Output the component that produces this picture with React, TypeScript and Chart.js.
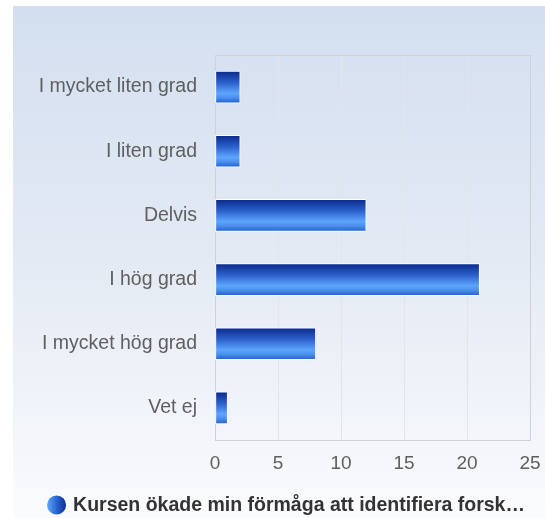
import React, { useEffect, useRef } from "react";
import { Chart, registerables } from "chart.js";

Chart.register(...registerables);

const categories = [
  "I mycket liten grad",
  "I liten grad",
  "Delvis",
  "I hög grad",
  "I mycket hög grad",
  "Vet ej",
];
const values = [2, 2, 12, 21, 8, 1];
const seriesLabel = "Kursen ökade min förmåga att identifiera forsk…";
const xTicks = [0, 5, 10, 15, 20, 25];

const bgPlugin = {
  id: "bgPlugin",
  beforeDraw(chart: any) {
    const { ctx, width, height } = chart;
    ctx.save();
    ctx.fillStyle = "#ffffff";
    ctx.fillRect(0, 0, width, height);
    const g = ctx.createLinearGradient(0, 6, 0, height);
    g.addColorStop(0, "#d3dff0");
    g.addColorStop(0.5, "#e4eaf4");
    g.addColorStop(1, "#fafbfd");
    ctx.fillStyle = g;
    ctx.fillRect(13, 6, width - 13, height - 6);
    ctx.restore();
  },
  beforeDatasetsDraw(chart: any) {
    const { ctx, chartArea } = chart;
    ctx.save();
    ctx.strokeStyle = "#cdd1d8";
    ctx.lineWidth = 1;
    ctx.strokeRect(
      Math.round(chartArea.left) + 0.5,
      Math.round(chartArea.top) + 0.5,
      Math.round(chartArea.right - chartArea.left),
      Math.round(chartArea.bottom - chartArea.top)
    );
    ctx.restore();
  },
  afterDraw(chart: any) {
    const { ctx } = chart;
    const label = chart.data.datasets[0].label;
    ctx.save();
    ctx.font = "bold 19.5px 'Liberation Sans', Arial, sans-serif";
    const tw = ctx.measureText(label).width;
    const r = 9.5;
    const gap = 7;
    const total = r * 2 + gap + tw;
    const x0 = 286 - total / 2;
    const cy = 505;
    const g = ctx.createLinearGradient(x0, 0, x0 + 2 * r, 0);
    g.addColorStop(0, "#5ea6fb");
    g.addColorStop(0.5, "#2c64d2");
    g.addColorStop(1, "#0d2f8f");
    ctx.fillStyle = g;
    ctx.beginPath();
    ctx.arc(x0 + r, cy, r, 0, Math.PI * 2);
    ctx.fill();
    ctx.fillStyle = "#333333";
    ctx.textBaseline = "middle";
    ctx.textAlign = "left";
    ctx.fillText(label, x0 + 2 * r + gap, cy + 1);
    ctx.restore();
  },
};

function barGradient(context: any) {
  const chart = context.chart;
  const { ctx, chartArea, scales } = chart;
  if (!chartArea || !scales || !scales.y || context.dataIndex === undefined) return "#2c64d2";
  const yc = scales.y.getPixelForValue(context.dataIndex);
  const h = 31;
  const g = ctx.createLinearGradient(0, yc - h / 2, 0, yc + h / 2);
  g.addColorStop(0, "#0b2c8c");
  g.addColorStop(0.35, "#2b5fcc");
  g.addColorStop(0.7, "#5da5fc");
  g.addColorStop(0.85, "#4a8ded");
  g.addColorStop(1, "#2563d2");
  return g;
}

export default function App() {
  const ref = useRef<HTMLCanvasElement | null>(null);
  useEffect(() => {
    if (!ref.current) return;
    const chart = new Chart(ref.current, {
      type: "bar",
      data: {
        labels: categories,
        datasets: [
          {
            label: seriesLabel,
            data: values,
            backgroundColor: barGradient as any,
            borderColor: "#ffffff",
            borderWidth: 1,
            borderSkipped: false,
            barThickness: 32,
          },
        ],
      },
      options: {
        indexAxis: "y",
        animation: false,
        responsive: false,
        layout: { padding: { top: 55, right: 15, left: 0, bottom: 0 } },
        plugins: {
          legend: { display: false },
          tooltip: { enabled: false },
        },
        scales: {
          x: {
            min: 0,
            max: 25,
            afterBuildTicks(scale: any) {
              scale.ticks = xTicks.map((v) => ({ value: v }));
            },
            afterFit(scale: any) {
              scale.height = 78;
              scale.paddingLeft = 0;
              scale.paddingRight = 0;
            },
            grid: { color: "#e2e5ea", drawTicks: false },
            border: { display: false },
            ticks: {
              color: "#5f5f5f",
              font: { size: 19, family: "'Liberation Sans', Arial, sans-serif" },
              padding: 12,
            },
          },
          y: {
            afterFit(scale: any) {
              scale.width = 215;
            },
            grid: { display: false, drawTicks: false },
            border: { display: false },
            ticks: {
              color: "#5f5f5f",
              font: { size: 19.5, family: "'Liberation Sans', Arial, sans-serif" },
              padding: 18,
            },
          },
        },
      },
      plugins: [bgPlugin],
    });
    return () => chart.destroy();
  }, []);
  return (
    <div style={{ position: "fixed", left: 0, top: 0, width: 545, height: 518 }}>
      <canvas ref={ref} width={545} height={518} style={{ display: "block", width: 545, height: 518 }} />
    </div>
  );
}
